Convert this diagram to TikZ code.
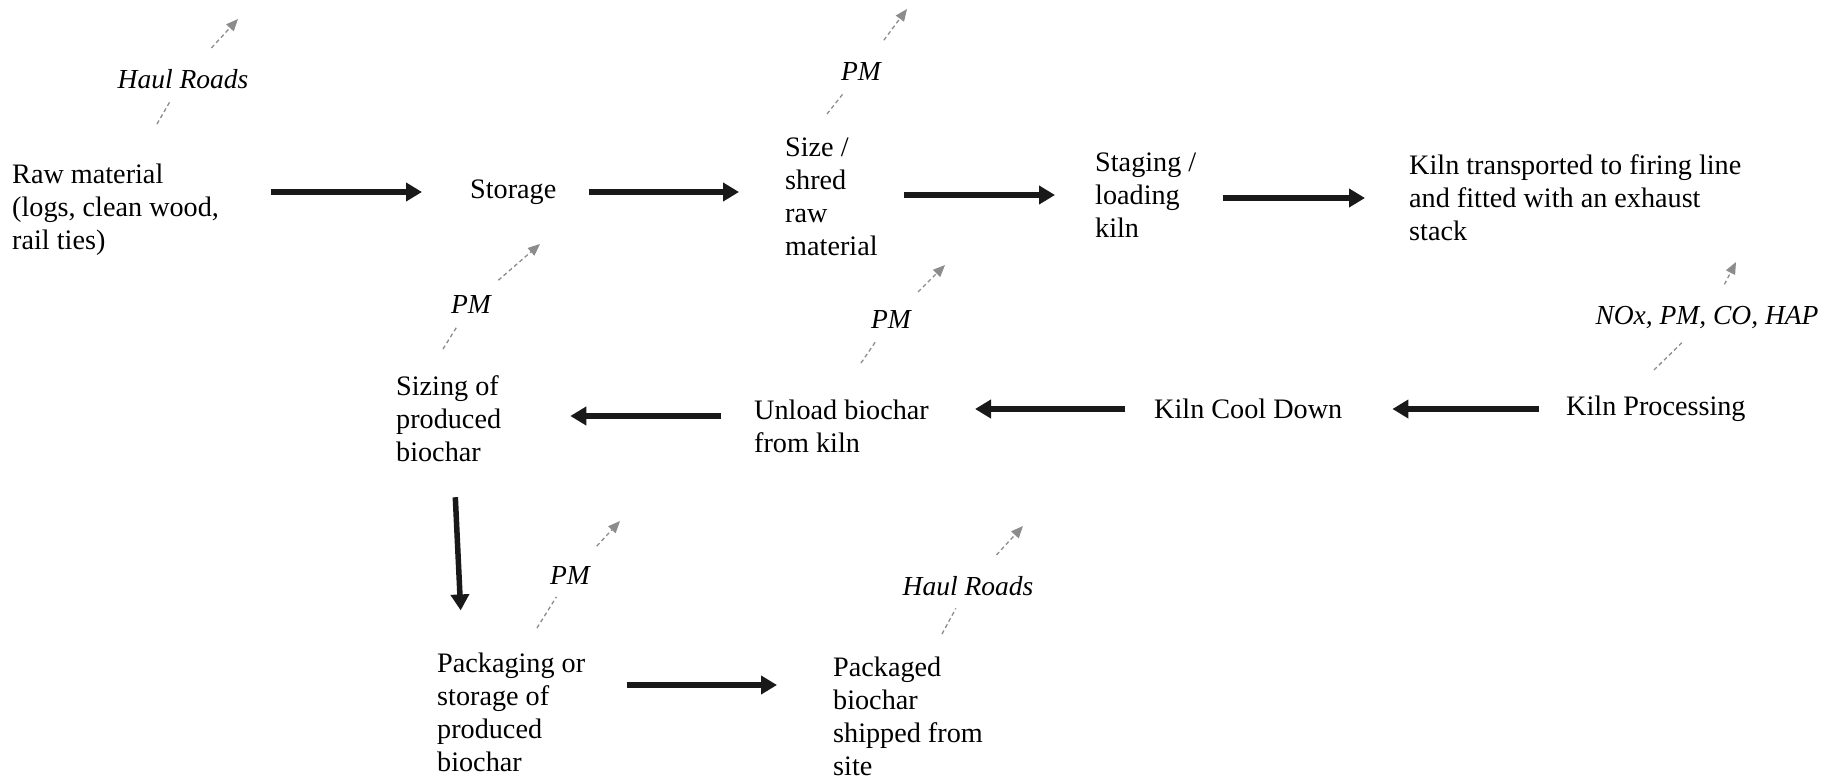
\documentclass[tikz,border=0pt]{standalone}
\usepackage{fontspec}
\setmainfont{Liberation Serif}
\usetikzlibrary{arrows.meta}
\begin{document}
\begin{tikzpicture}[x=1pt,y=-1pt,
  txt/.style={font=\fontsize{28.2}{33}\selectfont, align=left, anchor=west, inner sep=0pt},
  emlab/.style={font=\fontsize{27.5}{33}\selectfont\itshape, inner xsep=2pt, inner ysep=16pt},
  flow/.style={line width=5.5pt, -{Triangle[length=16pt,width=18pt]}, draw=black!90},
  emline/.style={draw=gray!90, line width=1.3pt, dash pattern=on 4pt off 3pt},
  emis/.style={emline, -{Triangle[length=12pt,width=10pt,fill=gray!90]}}]
\useasboundingbox (0,0) rectangle (1824,779);

% process nodes
\node[txt] (raw) at (12,210) {Raw material\\(logs, clean wood,\\rail ties)};
\node[txt] (storage) at (470,192) {Storage};
\node[txt] (size) at (785,197) {Size /\\shred\\raw\\material};
\node[txt] (staging) at (1095,195) {Staging /\\loading\\kiln};
\node[txt] (kilnt) at (1409,198) {Kiln transported to firing line\\and fitted with an exhaust\\stack};
\node[txt] (kproc) at (1566,409) {Kiln Processing};
\node[txt] (kcool) at (1154,409) {Kiln Cool Down};
\node[txt] (unload) at (754,426) {Unload biochar\\from kiln};
\node[txt] (sizing) at (396,419) {Sizing of\\produced\\biochar};
\node[txt] (pack) at (437,712) {Packaging or\\storage of\\produced\\biochar};
\node[txt] (ship) at (833,716) {Packaged\\biochar\\shipped from\\site};

% process flow
\draw[flow, shorten <=52pt, shorten >=48pt] (raw.east |- storage.west) -- (storage.west);
\draw[flow, shorten <=32pt, shorten >=46pt] (storage.east) -- (storage.east -| size.west);
\draw[flow, shorten <=26pt, shorten >=40pt] (size.east |- staging.west) -- (staging.west);
\draw[flow, shorten <=27pt, shorten >=44pt] (staging.east |- kilnt.west) -- (kilnt.west);
\draw[flow, shorten <=27pt, shorten >=50pt] (kproc.west) -- (kproc.west -| kcool.east);
\draw[flow, shorten <=29pt, shorten >=46pt] (kcool.west) -- (kcool.west -| unload.east);
\draw[flow, shorten <=33pt, shorten >=69pt] ([yshift=3pt]sizing.east -| unload.west) -- ([yshift=3pt]sizing.east);
\draw[flow, shorten <=35pt, shorten >=42pt] ([xshift=5pt]sizing.south) -- ([xshift=14pt]sizing.south |- pack.north);
\draw[flow, shorten <=42pt, shorten >=56pt] ([yshift=27pt]pack.east) -- ([yshift=27pt]pack.east -| ship.west);

% emissions
\coordinate (s1) at (157,124); \coordinate (e1) at (238,19);
\node[emlab] (l1) at (183,79) {Haul Roads};
\coordinate (s2) at (827,114); \coordinate (e2) at (907,9);
\node[emlab] (l2) at (861,71) {PM};
\coordinate (s3) at (443,349); \coordinate (e3) at (540,244);
\node[emlab] (l3) at (471,304) {PM};
\coordinate (s4) at (861,363); \coordinate (e4) at (945,265);
\node[emlab] (l4) at (891,319) {PM};
\coordinate (s5) at (1654,370); \coordinate (e5) at (1736,262);
\node[emlab] (l5) at (1707,318) {NOx, PM, CO, HAP};
\coordinate (s6) at (537,628); \coordinate (e6) at (620,521);
\node[emlab] (l6) at (570,575) {PM};
\coordinate (s7) at (942,634); \coordinate (e7) at (1023,526);
\node[emlab] (l7) at (968,586) {Haul Roads};

\foreach \i in {1,...,7}{
  \draw[emline, shorten >=-4pt] (s\i) -- (l\i);
  \draw[emis, shorten <=7pt] (l\i) -- (e\i);
}
\end{tikzpicture}
\end{document}
